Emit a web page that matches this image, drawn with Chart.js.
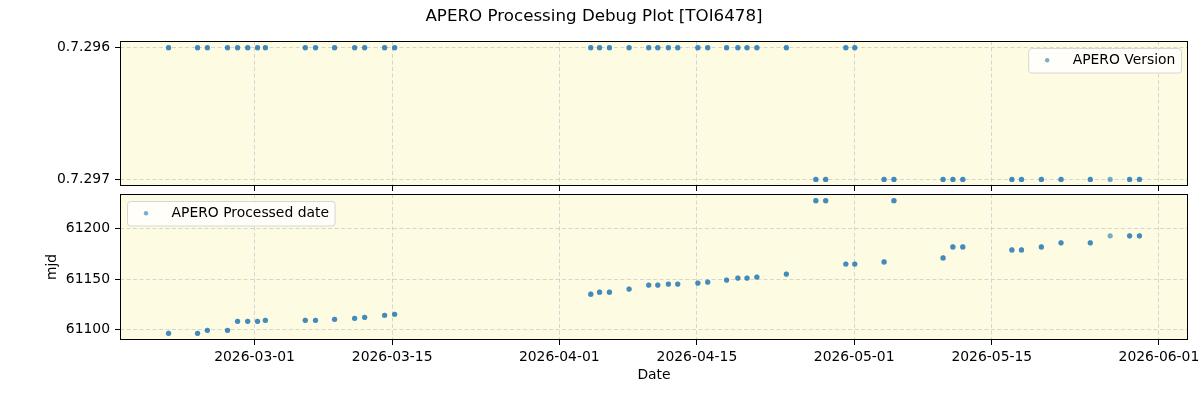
<!DOCTYPE html>
<html>
<head>
<meta charset="utf-8">
<script src="https://cdn.jsdelivr.net/npm/chart.js@4.4.1/dist/chart.umd.min.js"></script>
<style>
  html, body { margin: 0; padding: 0; background: #fff; }
  #wrap { position: relative; width: 1200px; height: 400px; }
  #wrap canvas { position: absolute; left: 0; }
  #topChart { top: 0; }
  #bottomChart { top: 186px; }
</style>
</head>
<body>
<div id="wrap">
  <canvas id="topChart" width="1200" height="192"></canvas>
  <canvas id="bottomChart" width="1200" height="214"></canvas>
</div>
<script>
// one entry per observing night (UT)
var obsDates = [
  '2026-02-20T06:00', '2026-02-23T04:48', '2026-02-24T04:48', '2026-02-26T06:00',
  '2026-02-27T06:30', '2026-02-28T07:12', '2026-03-01T07:12', '2026-03-02T02:24',
  '2026-03-06T03:50', '2026-03-07T04:48', '2026-03-09T03:20', '2026-03-11T04:20',
  '2026-03-12T04:48', '2026-03-14T05:30', '2026-03-15T06:00',
  '2026-04-04T04:48', '2026-04-05T02:24', '2026-04-06T02:24', '2026-04-08T02:24',
  '2026-04-10T02:24', '2026-04-11T00:30', '2026-04-12T02:24', '2026-04-13T01:12',
  '2026-04-15T02:24', '2026-04-16T02:24', '2026-04-18T00:30', '2026-04-19T04:00',
  '2026-04-20T02:24', '2026-04-21T02:24', '2026-04-24T02:24', '2026-04-27T02:24',
  '2026-04-28T02:24', '2026-04-30T03:36', '2026-05-01T01:26', '2026-05-04T01:00',
  '2026-05-05T01:00', '2026-05-10T01:00', '2026-05-11T01:00', '2026-05-12T01:12',
  '2026-05-17T01:00', '2026-05-18T00:30', '2026-05-20T01:00', '2026-05-22T01:00',
  '2026-05-25T00:30', '2026-05-27T01:00', '2026-05-29T00:30', '2026-05-30T00:30'
];
var aperoVersion = [
  '0.7.296', '0.7.296', '0.7.296', '0.7.296', '0.7.296', '0.7.296', '0.7.296', '0.7.296',
  '0.7.296', '0.7.296', '0.7.296', '0.7.296', '0.7.296', '0.7.296', '0.7.296',
  '0.7.296', '0.7.296', '0.7.296', '0.7.296', '0.7.296', '0.7.296', '0.7.296', '0.7.296',
  '0.7.296', '0.7.296', '0.7.296', '0.7.296', '0.7.296', '0.7.296', '0.7.296', '0.7.297',
  '0.7.297', '0.7.296', '0.7.296', '0.7.297', '0.7.297', '0.7.297', '0.7.297', '0.7.297',
  '0.7.297', '0.7.297', '0.7.297', '0.7.297', '0.7.297', '0.7.297', '0.7.297', '0.7.297'
];
var processedMjd = [
  61096, 61096, 61099, 61099, 61108, 61108, 61108, 61109,
  61109, 61109, 61110, 61111, 61112, 61114, 61115,
  61135, 61137, 61137, 61140, 61144, 61144, 61145, 61145,
  61146, 61147, 61149, 61151, 61151, 61152, 61155, 61228,
  61228, 61165, 61165, 61167, 61228, 61171, 61182, 61182,
  61179, 61179, 61182, 61186, 61186, 61193, 61193, 61193
];
// files per night (overlapping points look darker)
var nFiles = [
  2, 2, 2, 2, 2, 2, 2, 2, 2, 2, 2, 2, 2, 2, 2,
  2, 2, 2, 2, 2, 2, 2, 2, 2, 2, 2, 2, 2, 2, 2, 2,
  2, 2, 2, 2, 2, 2, 2, 2, 2, 2, 2, 2, 2, 1, 2, 2
];
var versionLabels = ['0.7.296', '0.7.297'];
var dateTicks = ['2026-03-01', '2026-03-15', '2026-04-01', '2026-04-15', '2026-05-01', '2026-05-15', '2026-06-01'];
var mjdTicks = [61100, 61150, 61200];

var FONT = "'DejaVu Sans', sans-serif";
Chart.defaults.font.family = FONT;
Chart.defaults.font.size = 13.9;
Chart.defaults.color = '#000';

function toDay(s) {
  if (s.length === 10) s += 'T00:00';
  return Date.parse(s + 'Z') / 86400000;
}
function dayLabel(d) {
  return new Date(Math.round(d * 86400000)).toISOString().slice(0, 10);
}

var days = obsDates.map(toDay);
var dMin = Math.min.apply(null, days), dMax = Math.max.apply(null, days);
var dPad = (dMax - dMin) * 0.05;
var mMin = Math.min.apply(null, processedMjd), mMax = Math.max.apply(null, processedMjd);
var mPad = (mMax - mMin) * 0.05;

var versionPts = [], mjdPts = [];
for (var i = 0; i < days.length; i++) {
  for (var k = 0; k < nFiles[i]; k++) {
    versionPts.push({ x: days[i], y: versionLabels.indexOf(aperoVersion[i]) });
    mjdPts.push({ x: days[i], y: processedMjd[i] });
  }
}

var pointColor = 'rgba(31,119,180,0.6)';
var gridOpts = { color: '#cccccc', lineWidth: 0.8, tickColor: '#000', tickLength: 5, tickWidth: 1, tickBorderDash: [] };
var borderOpts = { display: false, dash: [4, 2.5] };

var framePlugin = {
  id: 'frame',
  beforeDraw: function (chart) {
    var a = chart.chartArea, ctx = chart.ctx;
    ctx.save();
    ctx.fillStyle = '#fdfbe2';
    ctx.fillRect(a.left, a.top, a.right - a.left, a.bottom - a.top);
    ctx.restore();
  },
  afterDraw: function (chart) {
    var a = chart.chartArea, ctx = chart.ctx;
    ctx.save();
    ctx.strokeStyle = '#000';
    ctx.lineWidth = 1;
    ctx.strokeRect(Math.round(a.left) + 0.5, Math.round(a.top) + 0.5,
      Math.round(a.right - a.left) - 1, Math.round(a.bottom - a.top) - 1);
    ctx.restore();
  }
};

function boxLegend(text, corner) {
  return {
    id: 'boxLegend',
    afterDraw: function (chart) {
      var ctx = chart.ctx, a = chart.chartArea;
      ctx.save();
      ctx.font = '13.9px ' + FONT;
      var tw = ctx.measureText(text).width;
      var w = 5.6 + 27.8 + 11.1 + tw + 5.6, h = 24.5;
      var x = corner === 'right' ? a.right - 7 - w : a.left + 7;
      var y = a.top + 7;
      ctx.beginPath();
      ctx.roundRect(x + 0.5, y + 0.5, w, h, 3);
      ctx.fillStyle = 'rgba(255,255,255,0.8)';
      ctx.fill();
      ctx.strokeStyle = '#d6d6d6';
      ctx.lineWidth = 1;
      ctx.stroke();
      ctx.beginPath();
      ctx.arc(x + 5.6 + 13.4, y + h / 2, 2.2, 0, Math.PI * 2);
      ctx.fillStyle = pointColor;
      ctx.fill();
      ctx.fillStyle = '#000';
      ctx.textBaseline = 'middle';
      ctx.fillText(text, x + 5.6 + 27.8 + 11.1, y + h / 2 + 0.5);
      ctx.restore();
    }
  };
}

function xScale(showLabels) {
  return {
    type: 'linear',
    min: dMin - dPad,
    max: dMax + dPad,
    afterBuildTicks: function (s) { s.ticks = dateTicks.map(function (t) { return { value: toDay(t) }; }); },
    afterFit: function (s) {
      s.height = showLabels ? 60 : 6;
      s.paddingLeft = 0; s.paddingRight = 0;
    },
    ticks: { display: showLabels, maxRotation: 0, autoSkip: false, padding: 4, callback: function (v) { return dayLabel(v); } },
    grid: gridOpts,
    border: borderOpts,
    title: { display: showLabels, text: 'Date', padding: { top: 0, bottom: 16.5 } }
  };
}

new Chart(document.getElementById('topChart').getContext('2d'), {
  type: 'scatter',
  data: {
    datasets: [{
      label: 'APERO Version',
      data: versionPts,
      backgroundColor: pointColor,
      borderWidth: 0,
      pointRadius: 2.6
    }]
  },
  options: {
    responsive: false,
    animation: false,
    layout: { padding: { left: 0, right: 12, top: 0, bottom: 0 } },
    plugins: {
      legend: { display: false },
      tooltip: { enabled: false },
      title: {
        display: true,
        text: 'APERO Processing Debug Plot [TOI6478]',
        font: { size: 16.7, weight: 'normal' },
        color: '#000',
        padding: { top: 6.5, bottom: 14.5 }
      }
    },
    scales: {
      x: xScale(false),
      y: {
        type: 'linear',
        reverse: true,
        min: -0.05,
        max: 1.05,
        afterBuildTicks: function (s) { s.ticks = versionLabels.map(function (l, j) { return { value: j }; }); },
        afterFit: function (s) { s.width = 120; s.paddingTop = 0; s.paddingBottom = 0; },
        ticks: { padding: 5, callback: function (v) { return versionLabels[v]; } },
        grid: gridOpts,
        border: borderOpts
      }
    }
  },
  plugins: [framePlugin, boxLegend('APERO Version', 'right')]
});

new Chart(document.getElementById('bottomChart').getContext('2d'), {
  type: 'scatter',
  data: {
    datasets: [{
      label: 'APERO Processed date',
      data: mjdPts,
      backgroundColor: pointColor,
      borderWidth: 0,
      pointRadius: 2.6
    }]
  },
  options: {
    responsive: false,
    animation: false,
    layout: { padding: { left: 0, right: 12, top: 8, bottom: 0 } },
    plugins: {
      legend: { display: false },
      tooltip: { enabled: false }
    },
    scales: {
      x: xScale(true),
      y: {
        type: 'linear',
        min: mMin - mPad,
        max: mMax + mPad,
        afterBuildTicks: function (s) { s.ticks = mjdTicks.map(function (v) { return { value: v }; }); },
        afterFit: function (s) { s.width = 120; s.paddingTop = 0; s.paddingBottom = 0; },
        ticks: { padding: 5, callback: function (v) { return String(v); } },
        grid: gridOpts,
        border: borderOpts,
        title: { display: true, text: 'mjd', padding: { top: 44.5, bottom: 0 } }
      }
    }
  },
  plugins: [framePlugin, boxLegend('APERO Processed date', 'left')]
});
</script>
</body>
</html>
